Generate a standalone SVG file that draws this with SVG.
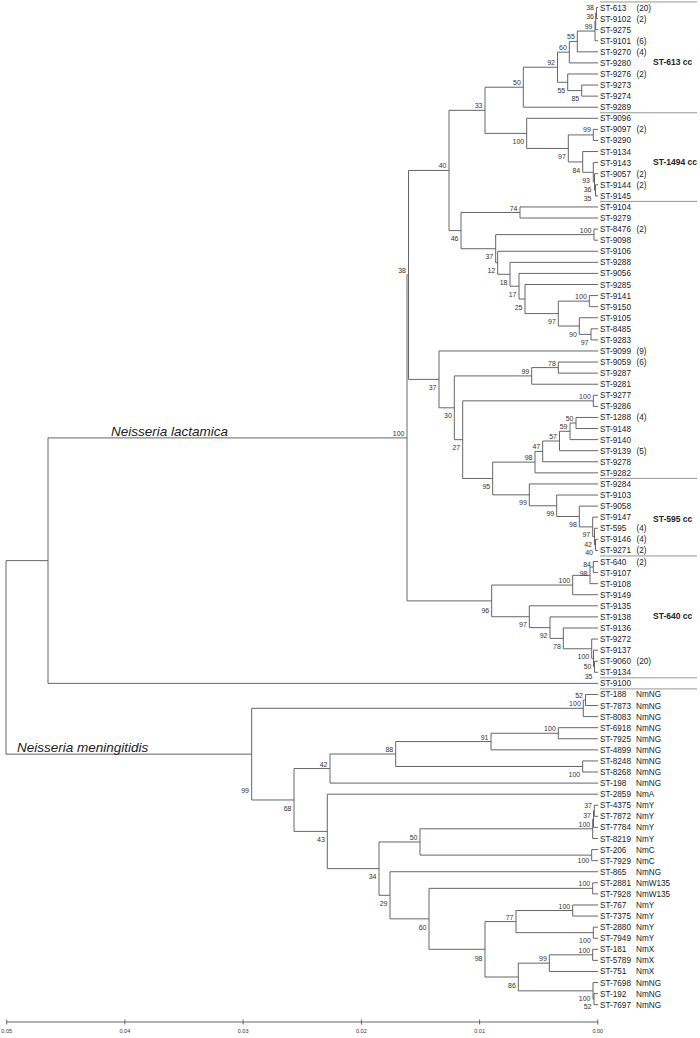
<svg xmlns="http://www.w3.org/2000/svg" width="700" height="1038" viewBox="0 0 700 1038">
<style>
.t{stroke:#555;stroke-width:0.9;fill:none}
.cc{stroke:#8a8a8a;stroke-width:0.9}
.lf{font-family:"Liberation Sans",Arial,sans-serif;font-size:8.2px;fill:#222}
.bs{font-family:"Liberation Sans",Arial,sans-serif;font-size:7px;fill:#333;text-anchor:end}
.sp{font-family:"Liberation Sans",Arial,sans-serif;font-size:13.5px;font-style:italic;fill:#222}
.ccl{font-family:"Liberation Sans",Arial,sans-serif;font-size:8.5px;font-weight:bold;fill:#222}
.ax{font-family:"Liberation Sans",Arial,sans-serif;font-size:5.5px;fill:#333;text-anchor:middle}
</style>
<rect width="700" height="1038" fill="#fff"/>
<g id="connectors" class="t">
<path d="M598,7.5H596.4V18.58H598M596.4,13.04H595.7V29.66H598M595.7,21.35H595V40.74H598M595,31.05H577.3V51.82H598M577.3,41.43H569.3V62.9H598M598,85.06H581.7V96.14H598M598,73.98H567.7V90.6H581.7M569.3,52.17H557.5V82.29H567.7M557.5,67.23H523.3V107.22H598"/>
<path d="M598,129.38H593.3V140.46H598M598,184.78H595.5V195.86H598M598,173.7H594.5V190.32H595.5M598,162.62H593.3V182.01H594.5M598,151.54H582.7V172.32H593.3M593.3,134.92H568.3V161.93H582.7M598,118.3H526.7V148.43H568.3M523.3,87.23H485V133.37H526.7"/>
<path d="M598,206.94H520V218.02H598M598,229.1H594V240.18H598M598,295.58H589.3V306.66H598M598,328.82H591V339.9H598M598,317.74H579.3V334.36H591M589.3,301.12H558.3V326.05H579.3M598,284.5H525V313.59H558.3M598,273.42H519V299.05H525M598,262.34H510V286.24H519M598,251.26H497.7V274.29H510M594,234.64H495.7V262.78H497.7M520,212.48H461V248.71H495.7M485,110.3H449V230.6H461"/>
<path d="M598,362.06H558.3V373.14H598M558.3,367.6H531.7V384.22H598M598,395.3H593.3V406.38H598M598,417.46H576V428.54H598M576,423H570V439.62H598M570,431.31H559.5V450.7H598M559.5,441.01H542.7V461.78H598M542.7,451.4H535V472.86H598M598,539.34H595.5V550.42H598M598,528.26H594.5V544.88H595.5M598,517.18H592.7V536.57H594.5M598,506.1H579.3V526.88H592.7M598,495.02H556.7V516.49H579.3M598,483.94H529.3V505.76H556.7M535,462.13H492.7V494.85H529.3M593.3,400.84H462.7V478.49H492.7M531.7,375.91H454.3V439.67H462.7M598,350.98H439V407.79H454.3M449,170.45H408.5V379.39H439"/>
<path d="M598,561.5H593.3V572.58H598M593.3,567.04H590V583.66H598M590,575.35H572.7V594.74H598M598,661.22H594.5V672.3H598M598,650.14H593.5V666.76H594.5M598,639.06H591.7V658.45H593.5M598,627.98H563.3V648.76H591.7M598,616.9H550V638.37H563.3M598,605.82H529.3V627.64H550M572.7,585.05H491.7V616.73H529.3M408.5,274.92H407V600.89H491.7M407,437.9H48V683.38H598M48,560.64H6V754.15H251.7"/>
<path d="M598,694.46H585.5V705.54H598M585.5,700H583.3V716.62H598M598,727.7H558.3V738.78H598M558.3,733.24H491V749.86H598M598,760.94H582.7V772.02H598M491,741.55H395.7V766.48H582.7M395.7,754.02H330V783.1H598M598,805.26H594.3V816.34H598M594.3,810.8H593.5V827.42H598M593.5,819.11H592.7V838.5H598M598,849.58H591.7V860.66H598M592.7,828.8H420V855.12H591.7M598,882.82H592.7V893.9H598M598,904.98H572.7V916.06H598M598,927.14H593.3V938.22H598M572.7,910.52H516V932.68H593.3M598,949.3H592.7V960.38H598M592.7,954.84H549.3V971.46H598M598,993.62H594V1004.7H598M598,982.54H593V999.16H594M549.3,963.15H518.3V990.85H593M516,921.6H485V977H518.3M592.7,888.36H429V949.3H485M598,871.74H390V918.83H429M420,841.96H379V895.29H390M598,794.18H327.3V868.63H379M330,768.56H294V831.4H327.3M583.3,708.31H251.7V799.98H294"/>
</g>
<g id="cc-lines" class="cc">
<path d="M600,1.96H697M600,112.76H697M600,201.4H697M600,478.4H697M600,555.96H697M600,677.84H697M600,688.92H697"/>
</g>
<g id="leaves" class="lf">
<g id="leaf-613"><text x="600" y="10.5">ST-613<tspan x="636.5">(20)</tspan></text></g>
<g id="leaf-9102"><text x="600" y="21.58">ST-9102<tspan x="636.5">(2)</tspan></text></g>
<g id="leaf-9275"><text x="600" y="32.66">ST-9275</text></g>
<g id="leaf-9101"><text x="600" y="43.74">ST-9101<tspan x="636.5">(6)</tspan></text></g>
<g id="leaf-9270"><text x="600" y="54.82">ST-9270<tspan x="636.5">(4)</tspan></text></g>
<g id="leaf-9280"><text x="600" y="65.9">ST-9280</text></g>
<g id="leaf-9276"><text x="600" y="76.98">ST-9276<tspan x="636.5">(2)</tspan></text></g>
<g id="leaf-9273"><text x="600" y="88.06">ST-9273</text></g>
<g id="leaf-9274"><text x="600" y="99.14">ST-9274</text></g>
<g id="leaf-9289"><text x="600" y="110.22">ST-9289</text></g>
<g id="leaf-9096"><text x="600" y="121.3">ST-9096</text></g>
<g id="leaf-9097"><text x="600" y="132.38">ST-9097<tspan x="636.5">(2)</tspan></text></g>
<g id="leaf-9290"><text x="600" y="143.46">ST-9290</text></g>
<g id="leaf-9134a"><text x="600" y="154.54">ST-9134</text></g>
<g id="leaf-9143"><text x="600" y="165.62">ST-9143</text></g>
<g id="leaf-9057"><text x="600" y="176.7">ST-9057<tspan x="636.5">(2)</tspan></text></g>
<g id="leaf-9144"><text x="600" y="187.78">ST-9144<tspan x="636.5">(2)</tspan></text></g>
<g id="leaf-9145"><text x="600" y="198.86">ST-9145</text></g>
<g id="leaf-9104"><text x="600" y="209.94">ST-9104</text></g>
<g id="leaf-9279"><text x="600" y="221.02">ST-9279</text></g>
<g id="leaf-8476"><text x="600" y="232.1">ST-8476<tspan x="636.5">(2)</tspan></text></g>
<g id="leaf-9098"><text x="600" y="243.18">ST-9098</text></g>
<g id="leaf-9106"><text x="600" y="254.26">ST-9106</text></g>
<g id="leaf-9288"><text x="600" y="265.34">ST-9288</text></g>
<g id="leaf-9056"><text x="600" y="276.42">ST-9056</text></g>
<g id="leaf-9285"><text x="600" y="287.5">ST-9285</text></g>
<g id="leaf-9141"><text x="600" y="298.58">ST-9141</text></g>
<g id="leaf-9150"><text x="600" y="309.66">ST-9150</text></g>
<g id="leaf-9105"><text x="600" y="320.74">ST-9105</text></g>
<g id="leaf-8485"><text x="600" y="331.82">ST-8485</text></g>
<g id="leaf-9283"><text x="600" y="342.9">ST-9283</text></g>
<g id="leaf-9099"><text x="600" y="353.98">ST-9099<tspan x="636.5">(9)</tspan></text></g>
<g id="leaf-9059"><text x="600" y="365.06">ST-9059<tspan x="636.5">(6)</tspan></text></g>
<g id="leaf-9287"><text x="600" y="376.14">ST-9287</text></g>
<g id="leaf-9281"><text x="600" y="387.22">ST-9281</text></g>
<g id="leaf-9277"><text x="600" y="398.3">ST-9277</text></g>
<g id="leaf-9286"><text x="600" y="409.38">ST-9286</text></g>
<g id="leaf-1288"><text x="600" y="420.46">ST-1288<tspan x="636.5">(4)</tspan></text></g>
<g id="leaf-9148"><text x="600" y="431.54">ST-9148</text></g>
<g id="leaf-9140"><text x="600" y="442.62">ST-9140</text></g>
<g id="leaf-9139"><text x="600" y="453.7">ST-9139<tspan x="636.5">(5)</tspan></text></g>
<g id="leaf-9278"><text x="600" y="464.78">ST-9278</text></g>
<g id="leaf-9282"><text x="600" y="475.86">ST-9282</text></g>
<g id="leaf-9284"><text x="600" y="486.94">ST-9284</text></g>
<g id="leaf-9103"><text x="600" y="498.02">ST-9103</text></g>
<g id="leaf-9058"><text x="600" y="509.1">ST-9058</text></g>
<g id="leaf-9147"><text x="600" y="520.18">ST-9147</text></g>
<g id="leaf-595"><text x="600" y="531.26">ST-595<tspan x="636.5">(4)</tspan></text></g>
<g id="leaf-9146"><text x="600" y="542.34">ST-9146<tspan x="636.5">(4)</tspan></text></g>
<g id="leaf-9271"><text x="600" y="553.42">ST-9271<tspan x="636.5">(2)</tspan></text></g>
<g id="leaf-640"><text x="600" y="564.5">ST-640<tspan x="636.5">(2)</tspan></text></g>
<g id="leaf-9107"><text x="600" y="575.58">ST-9107</text></g>
<g id="leaf-9108"><text x="600" y="586.66">ST-9108</text></g>
<g id="leaf-9149"><text x="600" y="597.74">ST-9149</text></g>
<g id="leaf-9135"><text x="600" y="608.82">ST-9135</text></g>
<g id="leaf-9138"><text x="600" y="619.9">ST-9138</text></g>
<g id="leaf-9136"><text x="600" y="630.98">ST-9136</text></g>
<g id="leaf-9272"><text x="600" y="642.06">ST-9272</text></g>
<g id="leaf-9137"><text x="600" y="653.14">ST-9137</text></g>
<g id="leaf-9060"><text x="600" y="664.22">ST-9060<tspan x="636.5">(20)</tspan></text></g>
<g id="leaf-9134b"><text x="600" y="675.3">ST-9134</text></g>
<g id="leaf-9100"><text x="600" y="686.38">ST-9100</text></g>
<g id="leaf-188"><text x="600" y="697.46">ST-188<tspan x="636">NmNG</tspan></text></g>
<g id="leaf-7873"><text x="600" y="708.54">ST-7873<tspan x="636">NmNG</tspan></text></g>
<g id="leaf-8083"><text x="600" y="719.62">ST-8083<tspan x="636">NmNG</tspan></text></g>
<g id="leaf-6918"><text x="600" y="730.7">ST-6918<tspan x="636">NmNG</tspan></text></g>
<g id="leaf-7925"><text x="600" y="741.78">ST-7925<tspan x="636">NmNG</tspan></text></g>
<g id="leaf-4899"><text x="600" y="752.86">ST-4899<tspan x="636">NmNG</tspan></text></g>
<g id="leaf-8248"><text x="600" y="763.94">ST-8248<tspan x="636">NmNG</tspan></text></g>
<g id="leaf-8268"><text x="600" y="775.02">ST-8268<tspan x="636">NmNG</tspan></text></g>
<g id="leaf-198"><text x="600" y="786.1">ST-198<tspan x="636">NmNG</tspan></text></g>
<g id="leaf-2859"><text x="600" y="797.18">ST-2859<tspan x="636">NmA</tspan></text></g>
<g id="leaf-4375"><text x="600" y="808.26">ST-4375<tspan x="636">NmY</tspan></text></g>
<g id="leaf-7872"><text x="600" y="819.34">ST-7872<tspan x="636">NmY</tspan></text></g>
<g id="leaf-7784"><text x="600" y="830.42">ST-7784<tspan x="636">NmY</tspan></text></g>
<g id="leaf-8219"><text x="600" y="841.5">ST-8219<tspan x="636">NmY</tspan></text></g>
<g id="leaf-206"><text x="600" y="852.58">ST-206<tspan x="636">NmC</tspan></text></g>
<g id="leaf-7929"><text x="600" y="863.66">ST-7929<tspan x="636">NmC</tspan></text></g>
<g id="leaf-865"><text x="600" y="874.74">ST-865<tspan x="636">NmNG</tspan></text></g>
<g id="leaf-2881"><text x="600" y="885.82">ST-2881<tspan x="636">NmW135</tspan></text></g>
<g id="leaf-7928"><text x="600" y="896.9">ST-7928<tspan x="636">NmW135</tspan></text></g>
<g id="leaf-767"><text x="600" y="907.98">ST-767<tspan x="636">NmY</tspan></text></g>
<g id="leaf-7375"><text x="600" y="919.06">ST-7375<tspan x="636">NmY</tspan></text></g>
<g id="leaf-2880"><text x="600" y="930.14">ST-2880<tspan x="636">NmY</tspan></text></g>
<g id="leaf-7949"><text x="600" y="941.22">ST-7949<tspan x="636">NmY</tspan></text></g>
<g id="leaf-181"><text x="600" y="952.3">ST-181<tspan x="636">NmX</tspan></text></g>
<g id="leaf-5789"><text x="600" y="963.38">ST-5789<tspan x="636">NmX</tspan></text></g>
<g id="leaf-751"><text x="600" y="974.46">ST-751<tspan x="636">NmX</tspan></text></g>
<g id="leaf-7698"><text x="600" y="985.54">ST-7698<tspan x="636">NmNG</tspan></text></g>
<g id="leaf-192"><text x="600" y="996.62">ST-192<tspan x="636">NmNG</tspan></text></g>
<g id="leaf-7697"><text x="600" y="1007.7">ST-7697<tspan x="636">NmNG</tspan></text></g>
</g>
<g id="bootstrap" class="bs">
<text x="594" y="9.5">38</text><text x="594" y="18.8">36</text><text x="592.5" y="29.05">99</text>
<text x="574.8" y="39.43">55</text><text x="566.8" y="50.17">60</text><text x="555" y="65.23">92</text>
<text x="565.2" y="92.8">55</text><text x="579.2" y="101.1">85</text><text x="520.8" y="85.23">50</text>
<text x="482.5" y="108.3">33</text><text x="524.2" y="143.9">100</text><text x="590.8" y="132">99</text>
<text x="565.8" y="158.9">97</text><text x="580.2" y="173">84</text><text x="590" y="182.5">93</text>
<text x="591.5" y="191.8">36</text><text x="591.5" y="200.8">35</text>
<text x="446.5" y="168.45">40</text><text x="517.5" y="210.5">74</text><text x="458.5" y="241.1">46</text>
<text x="591.5" y="232.6">100</text><text x="493.2" y="259.2">37</text><text x="495.2" y="273.3">12</text>
<text x="507.5" y="284.8">18</text><text x="516.5" y="296.7">17</text><text x="522.5" y="309.5">25</text>
<text x="586.8" y="299.1">100</text><text x="555.8" y="324.1">97</text><text x="576.8" y="336.5">90</text>
<text x="588.5" y="344.9">97</text>
<text x="406" y="272.9">38</text><text x="404.5" y="435.9">100</text><text x="436.5" y="389.9">37</text>
<text x="451.8" y="418.3">30</text><text x="529.2" y="373.9">99</text><text x="555.8" y="365.6">78</text>
<text x="590.8" y="398.8">100</text><text x="460.2" y="450.2">27</text>
<text x="573.5" y="421">50</text><text x="567.5" y="429.3">59</text><text x="557" y="439">57</text>
<text x="540.2" y="449.4">47</text><text x="532.5" y="460.1">98</text><text x="490.2" y="489">95</text>
<text x="526.8" y="505.4">99</text><text x="554.2" y="516.3">99</text><text x="576.8" y="527">98</text>
<text x="590.2" y="537.4">97</text><text x="592" y="547.1">42</text><text x="593" y="555.2">40</text>
<text x="591" y="566.8">84</text><text x="587.5" y="575.8">98</text><text x="570.2" y="583.05">100</text>
<text x="489.2" y="612.5">96</text><text x="526.8" y="627.2">97</text><text x="547.5" y="638.1">92</text>
<text x="560.8" y="648.9">78</text><text x="589.2" y="659.3">100</text><text x="591.5" y="668.5">50</text>
<text x="592.5" y="678.5">35</text>
<text x="583" y="698">52</text><text x="580.8" y="706.3">100</text><text x="555.8" y="731.2">100</text>
<text x="488.5" y="739.5">91</text><text x="393.2" y="752">88</text><text x="580.2" y="777">100</text>
<text x="327.5" y="766.5">42</text><text x="249" y="792.5">99</text><text x="291.5" y="810.5">68</text>
<text x="324.8" y="841.9">43</text><text x="592" y="807.5">37</text><text x="591" y="817.5">37</text>
<text x="590.2" y="826.5">100</text><text x="417.5" y="840">50</text><text x="589.2" y="863.2">100</text>
<text x="376.5" y="879.1">34</text><text x="387.5" y="905.8">29</text><text x="590.2" y="886.4">100</text>
<text x="426.5" y="929.8">60</text><text x="570.2" y="908.5">100</text><text x="513.5" y="919.6">77</text>
<text x="590.8" y="943.2">100</text><text x="482.5" y="960.8">98</text><text x="590.2" y="952.8">100</text>
<text x="546.8" y="961.2">99</text><text x="515.8" y="987.5">86</text><text x="590.5" y="1000.8">100</text>
<text x="591.5" y="1008.5">52</text>
</g>
<g id="species">
<text class="sp" x="111" y="436.3">Neisseria lactamica</text>
<text class="sp" x="17" y="751.5">Neisseria meningitidis</text>
</g>
<g id="cc-labels" class="ccl">
<text x="653" y="64.5">ST-613 cc</text>
<text x="653" y="164.5">ST-1494 cc</text>
<text x="653" y="521.8">ST-595 cc</text>
<text x="653" y="618.5">ST-640 cc</text>
</g>
<g id="axis">
<path class="t" d="M6.7,1022H597.8M6.7,1019.5V1024.5M124.9,1019.5V1024.5M243.1,1019.5V1024.5M361.4,1019.5V1024.5M479.6,1019.5V1024.5M597.8,1019.5V1024.5"/>
<g class="ax">
<text x="6.7" y="1032.5">0.05</text><text x="124.9" y="1032.5">0.04</text><text x="243.1" y="1032.5">0.03</text>
<text x="361.4" y="1032.5">0.02</text><text x="479.6" y="1032.5">0.01</text><text x="597.8" y="1032.5">0.00</text>
</g>
</g>
</svg>
